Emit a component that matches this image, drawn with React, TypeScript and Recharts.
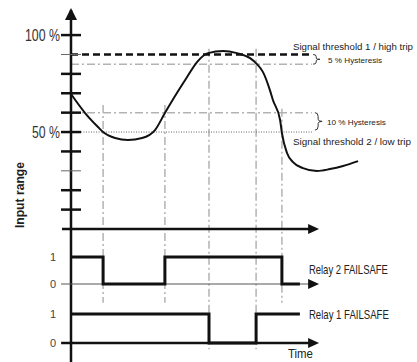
import React from "react";
import {
  LineChart,
  Line,
  XAxis,
  YAxis,
  ReferenceLine,
  ReferenceDot,
  ReferenceArea,
} from "recharts";

const FONT = '"Liberation Sans", Arial, sans-serif';

// time (arbitrary units) and the input signal in % of range
const signalTime = [0, 4.7, 9, 10.7, 14.7, 19, 23.7, 28, 31.3, 35.3, 38.7, 42, 45.7, 50.7, 55.3, 59.7, 62, 64, 66.3, 67.3, 69.7, 70.3, 72, 74, 77.3, 82, 86.3, 90.7, 95.7];
const signalLevel = [69.6, 59.8, 52.6, 50, 46.9, 45.9, 46.9, 51, 59.8, 70.1, 78.4, 86.1, 90.7, 91.8, 90.7, 88.1, 85, 80.9, 71.6, 66.5, 56.2, 49.5, 39.2, 34.5, 31.4, 29.9, 30.9, 32.5, 35];

// relay states (1 = energised)
const relay2Time = [0, 10.7, 31.3, 70.3, 76.3];
const relay2State = [1, 0, 1, 0, 0];
const relay1Time = [0, 46, 61.7, 76.3];
const relay1State = [1, 0, 1, 1];

const rangeTicks = [10, 20, 30, 40, 50, 60, 70, 80, 90, 100];
const rangeLabels: Record<number, string> = { 100: "100 %", 50: "50 %" };
const thinTicks = [90, 30];

const highTrip = 90;
const highReset = 85;
const lowReset = 60;
const lowTrip = 50;
const thresholdEnd = 80.3;

// switching moments, with the extent of each guide line (in % of range)
const switchTimes = [10.7, 31.3, 46, 61.7, 70.3];
const switchTops = [64, 64, 93, 93, 62];
const switchBottoms = [-38, -38, -62, -62, -38];

const signalData = signalTime.map((t, i) => ({ t, v: signalLevel[i] }));
const relay2Data = relay2Time.map((t, i) => ({ t, v: relay2State[i] }));
const relay1Data = relay1Time.map((t, i) => ({ t, v: relay1State[i] }));

const W = 417;
const H = 362;
const GUIDE = "#b3b3b3";

function RangeTick(props: any) {
  const { x, y, payload } = props;
  const v = payload.value;
  const thin = thinTicks.includes(v);
  const label = rangeLabels[v];
  return (
    <g>
      <line
        x1={x - 10}
        x2={x + 10}
        y1={y}
        y2={y}
        stroke={thin ? "#666" : "#111"}
        strokeWidth={thin ? 1 : 2.5}
      />
      {label && (
        <text
          x={x - 11}
          y={y + 6}
          textAnchor="end"
          fontSize={16}
          fill="#333"
          fontFamily={FONT}
          textLength={label.length === 5 ? 35 : 28}
          lengthAdjust="spacingAndGlyphs"
        >
          {label}
        </text>
      )}
    </g>
  );
}

const arrowRight = (p: any) => (
  <polygon
    points={`${p.cx},${p.cy} ${p.cx - 11},${p.cy - 5} ${p.cx - 11},${p.cy + 5}`}
    fill="#111"
  />
);

const arrowUp = (p: any) => (
  <polygon
    points={`${p.cx},${p.cy} ${p.cx - 6},${p.cy + 12} ${p.cx + 6},${p.cy + 12}`}
    fill="#111"
  />
);

const brace = (p: any) => {
  const { x, y, width: w, height: h } = p;
  const m = y + h / 2;
  const xm = x + w * 0.45;
  const d = `M${x},${y} Q${xm},${y} ${xm},${y + h * 0.22} L${xm},${m - h * 0.12} Q${xm},${m} ${x + w},${m} Q${xm},${m} ${xm},${m + h * 0.12} L${xm},${y + h * 0.78} Q${xm},${y + h} ${x},${y + h}`;
  return <path d={d} fill="none" stroke="#333" strokeWidth={1} />;
};

type TextOpts = { len?: number; anchor?: string; weight?: string; angle?: number };

const textAt =
  (text: string, size: number, o: TextOpts = {}) =>
  (p: any) =>
    (
      <text
        x={p.cx}
        y={p.cy}
        fontSize={size}
        fill="#222"
        fontFamily={FONT}
        fontWeight={o.weight}
        textAnchor={o.anchor || "start"}
        textLength={o.len}
        lengthAdjust={o.len ? "spacingAndGlyphs" : undefined}
        transform={o.angle ? `rotate(${o.angle}, ${p.cx}, ${p.cy})` : undefined}
      >
        {text}
      </text>
    );

const dashDot = "8 3 2 3";

export default function App() {
  return (
    <div style={{ position: "absolute", left: 0, top: 0, width: W, height: H, background: "#fff" }}>
      {/* input signal */}
      <div style={{ position: "absolute", left: 0, top: 0 }}>
        <LineChart width={W} height={H} margin={{ top: 6, right: 46, bottom: 133, left: 11 }}>
          <XAxis type="number" dataKey="t" domain={[0, 100]} hide />
          <YAxis
            type="number"
            domain={[0, 115]}
            ticks={rangeTicks}
            interval={0}
            width={60}
            axisLine={false}
            tickLine={false}
            tickSize={0}
            tickMargin={0}
            tick={<RangeTick />}
          />
          {switchTimes.map((t, i) => (
            <ReferenceLine
              key={t}
              segment={[{ x: t, y: switchTops[i] }, { x: t, y: switchBottoms[i] }]}
              stroke={GUIDE}
              strokeWidth={1.5}
              strokeDasharray={dashDot}
              ifOverflow="visible"
            />
          ))}
          <ReferenceLine segment={[{ x: 0, y: highReset }, { x: thresholdEnd, y: highReset }]} stroke={GUIDE} strokeWidth={1.5} strokeDasharray={dashDot} ifOverflow="visible" />
          <ReferenceLine segment={[{ x: 0, y: lowReset }, { x: thresholdEnd, y: lowReset }]} stroke={GUIDE} strokeWidth={1.5} strokeDasharray={dashDot} ifOverflow="visible" />
          <ReferenceLine segment={[{ x: 0, y: lowTrip }, { x: thresholdEnd, y: lowTrip }]} stroke="#666" strokeWidth={1} strokeDasharray="1 1.5" ifOverflow="visible" />
          <ReferenceLine segment={[{ x: 0, y: highTrip }, { x: thresholdEnd, y: highTrip }]} stroke="#111" strokeWidth={2.5} strokeDasharray="7 4" ifOverflow="visible" />
          <ReferenceArea x1={80.7} x2={83} y1={highReset} y2={highTrip} shape={brace} />
          <ReferenceArea x1={81.3} x2={83.7} y1={51} y2={lowReset} shape={brace} />
          <Line data={signalData} dataKey="v" type="monotone" stroke="#111" strokeWidth={2} dot={false} isAnimationActive={false} />
          <ReferenceLine segment={[{ x: 0, y: 113 }, { x: 0, y: -70 }]} stroke="#111" strokeWidth={2.5} ifOverflow="visible" />
          <ReferenceLine segment={[{ x: -3, y: 0 }, { x: 80, y: 0 }]} stroke="#111" strokeWidth={2.5} ifOverflow="visible" />
          <ReferenceDot x={0} y={114} ifOverflow="visible" shape={arrowUp} />
          <ReferenceDot x={82.7} y={0} ifOverflow="visible" shape={arrowRight} />
          <ReferenceDot x={74} y={92.3} ifOverflow="visible" shape={textAt("Signal threshold 1 / high trip", 9.7, { len: 120 })} />
          <ReferenceDot x={74} y={43.3} ifOverflow="visible" shape={textAt("Signal threshold 2 / low trip", 9.9, { len: 118 })} />
          <ReferenceDot x={85.7} y={85.7} ifOverflow="visible" shape={textAt("5 % Hysteresis", 8, { len: 54 })} />
          <ReferenceDot x={85.3} y={53.6} ifOverflow="visible" shape={textAt("10 % Hysteresis", 8, { len: 59 })} />
          <ReferenceDot
            x={-15.7}
            y={17.5}
            ifOverflow="visible"
            shape={textAt("Input range", 12.5, { angle: -90, anchor: "middle", weight: "bold", len: 66 })}
          />
        </LineChart>
      </div>

      {/* relay 2 */}
      <div style={{ position: "absolute", left: 0, top: 0 }}>
        <LineChart width={W} height={H} margin={{ top: 257, right: 46, bottom: 78, left: 11 }}>
          <XAxis type="number" dataKey="t" domain={[0, 100]} hide />
          <YAxis
            type="number"
            domain={[0, 1]}
            ticks={[0, 1]}
            interval={0}
            width={60}
            axisLine={false}
            tickLine={false}
            tickSize={0}
            tickMargin={15}
            tick={{ fontSize: 11, fill: "#444", fontFamily: FONT }}
          />
          <ReferenceLine segment={[{ x: -3.3, y: 0 }, { x: 80, y: 0 }]} stroke="#555" strokeWidth={1} ifOverflow="visible" />
          <ReferenceDot x={82.7} y={0} ifOverflow="visible" shape={arrowRight} />
          <Line data={relay2Data} dataKey="v" type="stepAfter" stroke="#111" strokeWidth={3} dot={false} isAnimationActive={false} />
          <ReferenceDot x={79.3} y={0.37} ifOverflow="visible" shape={textAt("Relay 2 FAILSAFE", 13, { len: 79 })} />
        </LineChart>
      </div>

      {/* relay 1 */}
      <div style={{ position: "absolute", left: 0, top: 0 }}>
        <LineChart width={W} height={H} margin={{ top: 314, right: 46, bottom: 19, left: 11 }}>
          <XAxis type="number" dataKey="t" domain={[0, 100]} hide />
          <YAxis
            type="number"
            domain={[0, 1]}
            ticks={[0, 1]}
            interval={0}
            width={60}
            axisLine={false}
            tickLine={false}
            tickSize={0}
            tickMargin={15}
            tick={{ fontSize: 11, fill: "#444", fontFamily: FONT }}
          />
          <ReferenceLine segment={[{ x: -3.3, y: 0 }, { x: 80, y: 0 }]} stroke="#111" strokeWidth={2.5} ifOverflow="visible" />
          <ReferenceDot x={82.7} y={0} ifOverflow="visible" shape={arrowRight} />
          <Line data={relay1Data} dataKey="v" type="stepAfter" stroke="#111" strokeWidth={3} dot={false} isAnimationActive={false} />
          <ReferenceDot x={79.3} y={0.83} ifOverflow="visible" shape={textAt("Relay 1 FAILSAFE", 13, { len: 80 })} />
          <ReferenceDot x={72.3} y={-0.5} ifOverflow="visible" shape={textAt("Time", 12, { len: 25 })} />
        </LineChart>
      </div>
    </div>
  );
}
